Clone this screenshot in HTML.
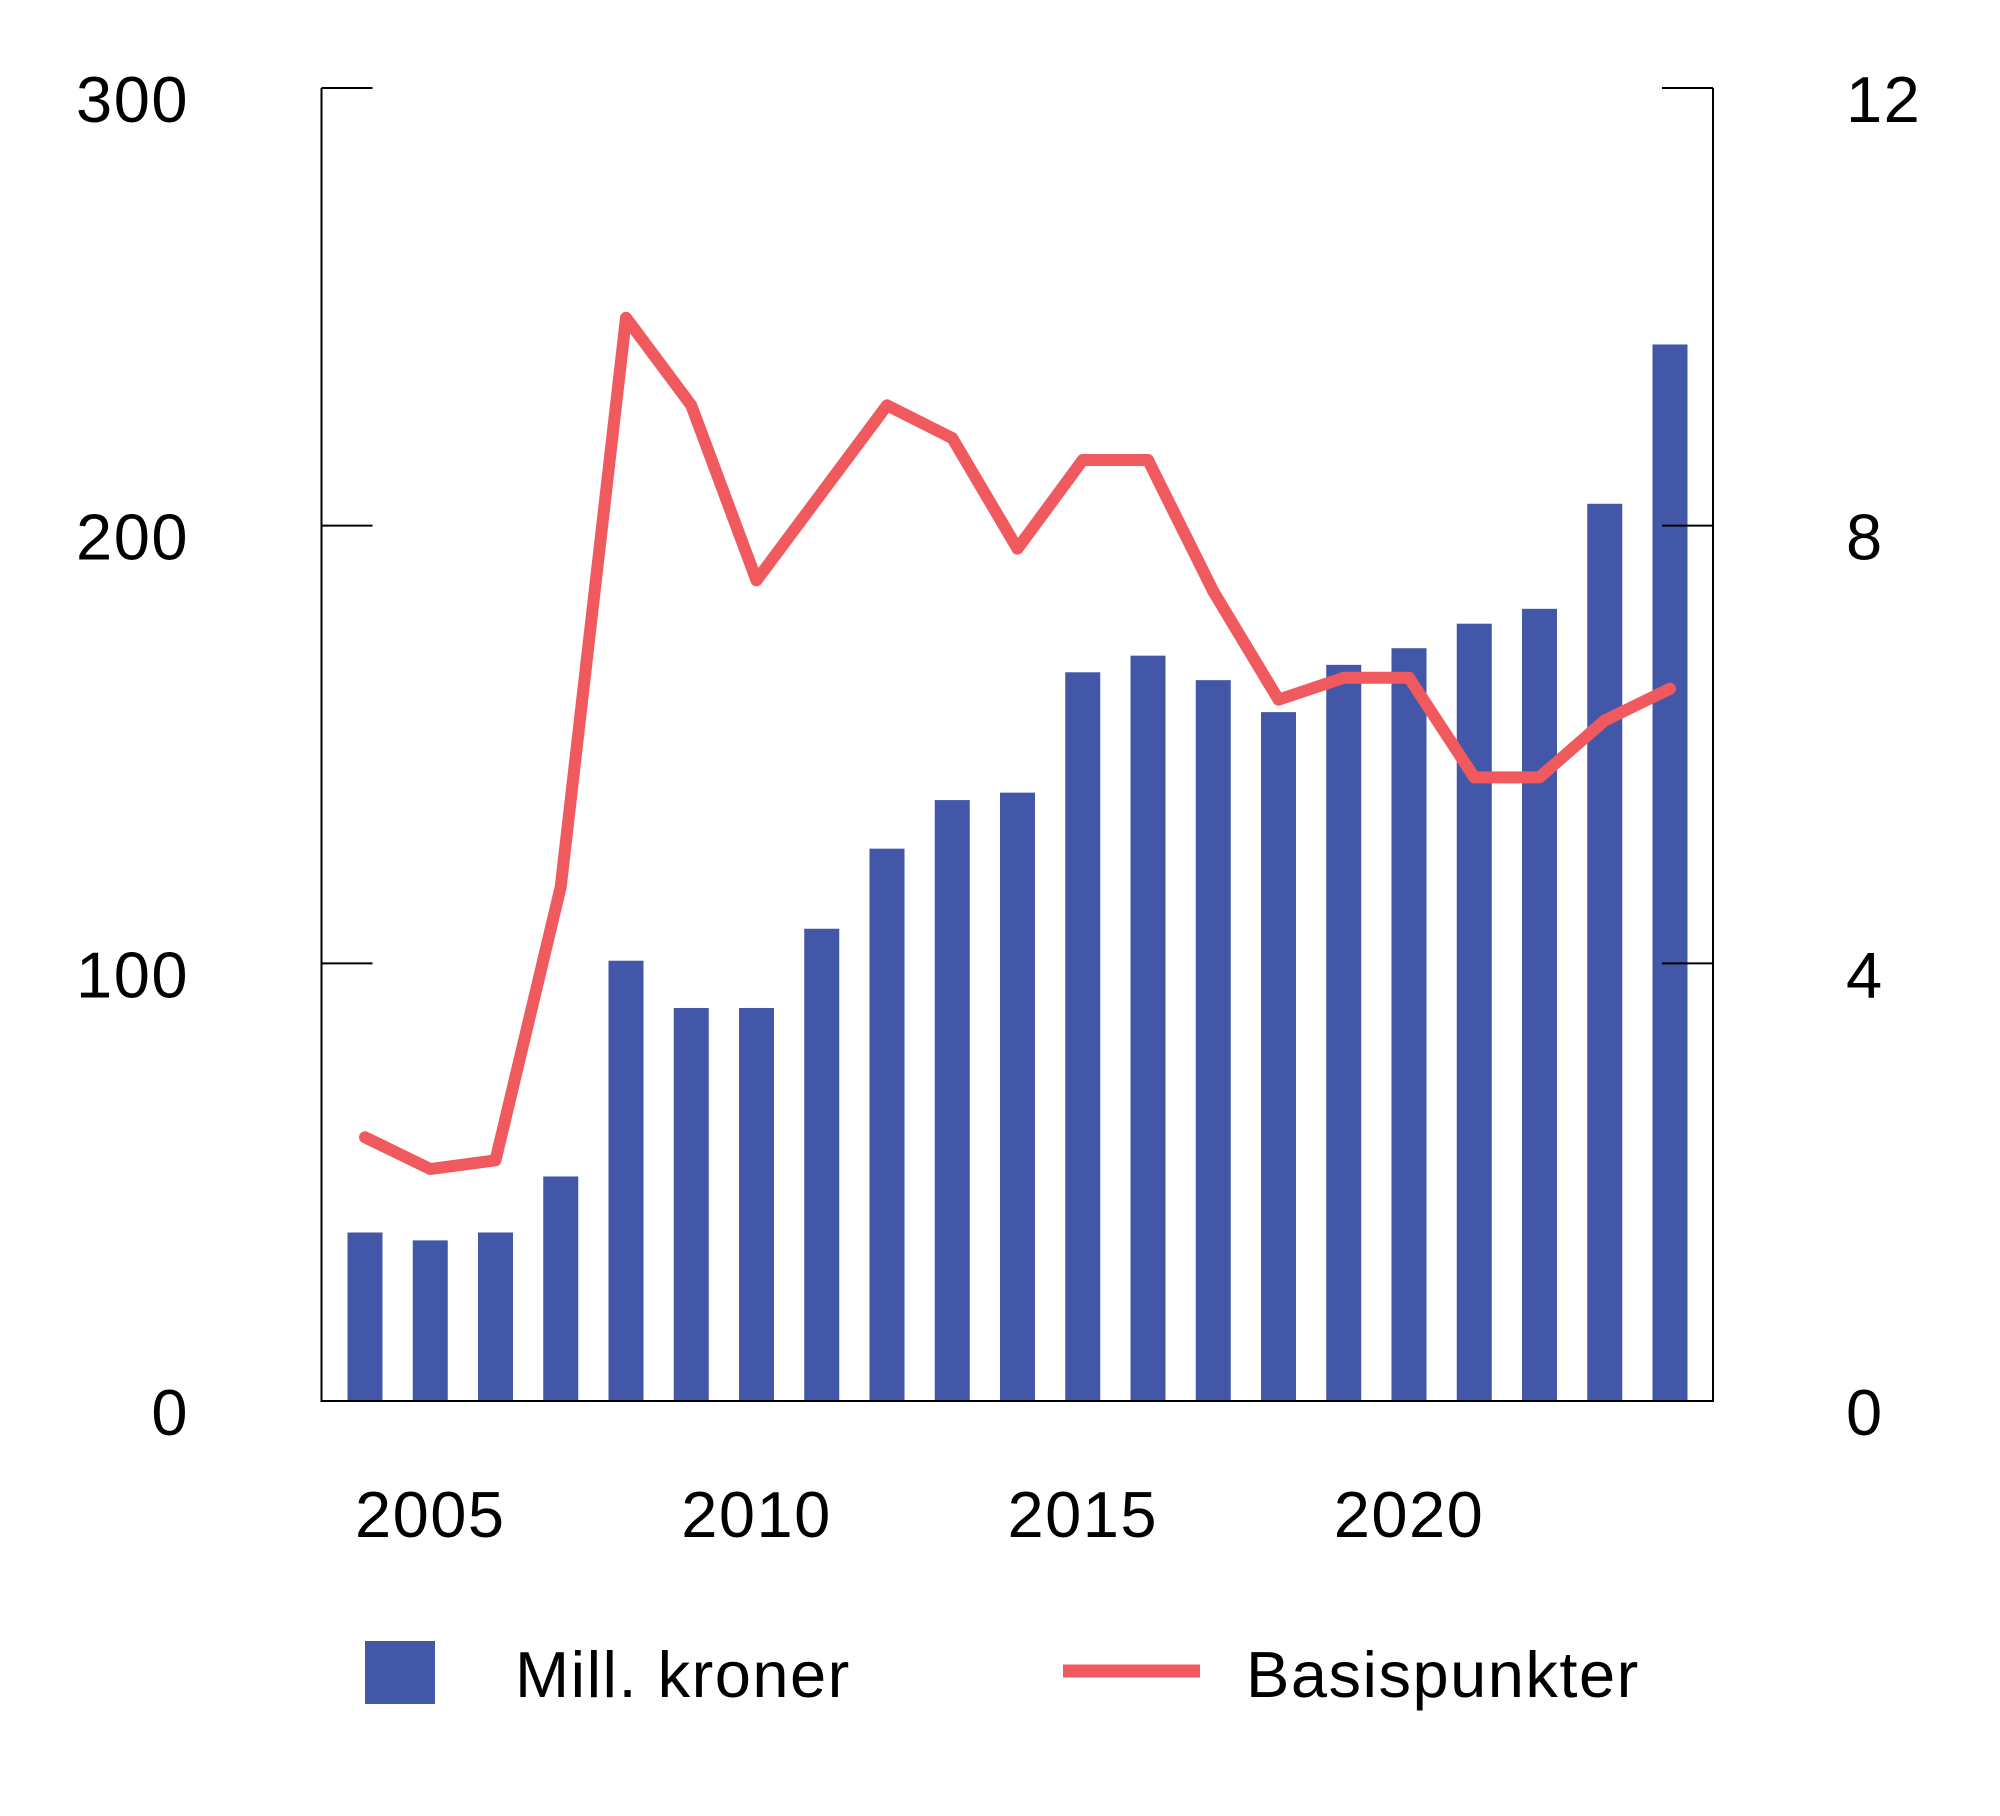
<!DOCTYPE html>
<html><head><meta charset="utf-8"><style>
html,body{margin:0;padding:0;background:#fff;}
svg{display:block;font-family:"Liberation Sans",Arial,sans-serif;}
text{letter-spacing:1.5px;}
</style></head><body>
<svg id="chart" width="2000" height="1816" viewBox="0 0 2000 1816">
<g id="bars"></g>
<g id="axes"></g>
<g id="line"></g>
<g>
<rect x="365" y="1641" width="70" height="63" fill="#4257a7"/>
<text x="515" y="1697" font-size="65" fill="#000">Mill. kroner</text>
<line x1="1063" y1="1671" x2="1200" y2="1671" stroke="#f05a5f" stroke-width="13"/>
<text x="1246" y="1697" font-size="65" fill="#000">Basispunkter</text>
</g>
</svg>
<script>
const years=[2004,2005,2006,2007,2008,2009,2010,2011,2012,2013,2014,2015,2016,2017,2018,2019,2020,2021,2022,2023,2024];
const millKroner=[38.5,36.7,38.5,51.3,100.6,89.8,89.8,107.9,126.2,137.3,139,166.5,170.3,164.7,157.4,168.2,172,177.6,181,205,241.4];
const basispunkter=[2.41,2.12,2.2,4.7,9.9,9.1,7.5,8.3,9.1,8.8,7.79,8.6,8.6,7.4,6.41,6.61,6.61,5.7,5.7,6.22,6.51];
const leftTicks=[0,100,200,300];
const rightTicks=[0,4,8,12];
const xLabels=[2005,2010,2015,2020];

const NS="http://www.w3.org/2000/svg";
const L=321.5,R=1713,T=88,B=1401;
const x0=365,dx=65.25;
const xs=y=>x0+(y-years[0])*dx;
const yl=v=>B-(v/300)*(B-T);
const yr=v=>B-(v/12)*(B-T);
function mk(t,a,p){const e=document.createElementNS(NS,t);for(const k in a)e.setAttribute(k,a[k]);p.appendChild(e);return e;}
const bars=document.getElementById('bars'),axes=document.getElementById('axes'),line=document.getElementById('line');
years.forEach((y,i)=>{
 const e=mk('rect',{x:xs(y)-17.5,y:yl(millKroner[i]),width:35,height:B-yl(millKroner[i]),fill:'#4257a7'},bars);
 
 
});
let a=mk('path',{d:`M${L},${T}V${B}H${R}V${T}`,fill:'none',stroke:'#000','stroke-width':2},axes);


leftTicks.forEach(v=>{
 const t=mk('line',{x1:L,x2:L+51,y1:yl(v),y2:yl(v),stroke:'#000','stroke-width':2},axes);
 
 
 const s=mk('text',{x:189,y:yl(v)+34,'font-size':65,'text-anchor':'end'},axes);s.textContent=v;
 
 
});
rightTicks.forEach(v=>{
 const t=mk('line',{x1:R-51,x2:R,y1:yr(v),y2:yr(v),stroke:'#000','stroke-width':2},axes);
 
 
 const s=mk('text',{x:1846,y:yr(v)+34,'font-size':65},axes);s.textContent=v;
 
 
});
xLabels.forEach(y=>{
 const s=mk('text',{x:xs(y),y:1537,'font-size':65,'text-anchor':'middle'},axes);s.textContent=y;
 
 
});
const p=mk('polyline',{points:years.map((y,i)=>xs(y)+','+yr(basispunkter[i])).join(' '),fill:'none',stroke:'#f05a5f','stroke-width':12,'stroke-linejoin':'round','stroke-linecap':'round'},line);


</script>
</body></html>
